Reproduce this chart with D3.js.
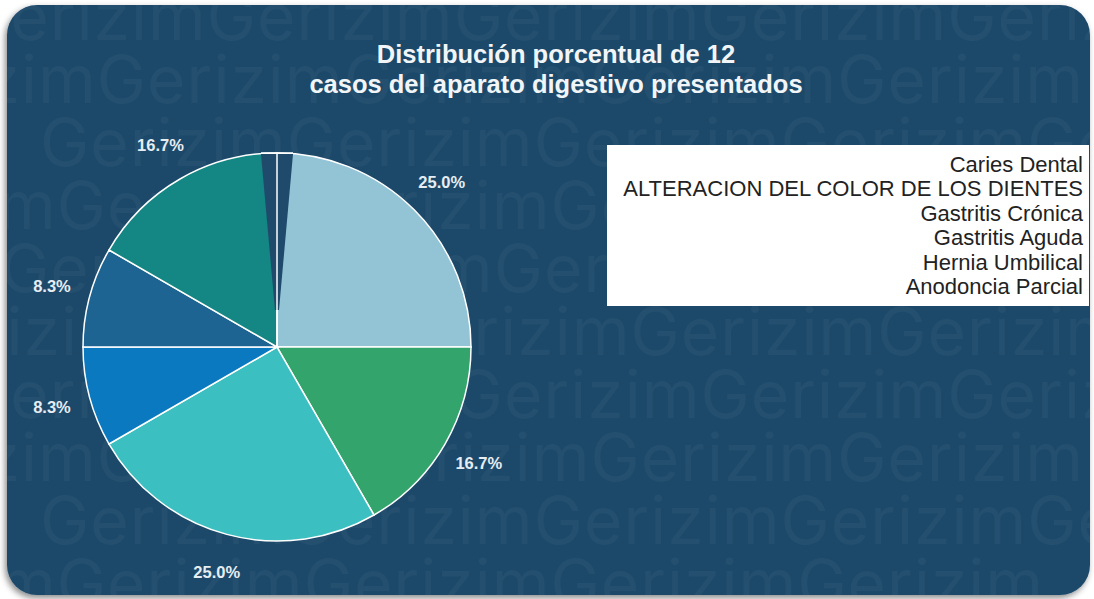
<!DOCTYPE html>
<html lang="es">
<head>
<meta charset="UTF-8" />
<title>Distribución porcentual</title>
<script src="https://d3js.org/d3.v7.min.js"></script>
<style>
  body { margin: 0; background: #fff; }
  svg { display: block; font-family: "Liberation Sans", Arial, sans-serif; }
  .slice { stroke: #fff; stroke-width: 1.5px; }
  .pct { fill: #e6edf3; font-size: 16.5px; font-weight: bold; text-anchor: middle; }
  .title { fill: #f2f5f8; font-size: 25.5px; font-weight: bold; text-anchor: middle; }
  .legend text { fill: #222; font-size: 22px; text-anchor: end; }
</style>
</head>
<body>
<svg width="1094" height="599"></svg>
<script>
  const width = 1094, height = 599;

  // datos
  const categories = [
    "Caries Dental",
    "ALTERACION DEL COLOR DE LOS DIENTES",
    "Gastritis Crónica",
    "Gastritis Aguda",
    "Hernia Umbilical",
    "Anodoncia Parcial"
  ];
  const cases = [3, 2, 3, 1, 1, 2];
  const colors = ["#93c4d5", "#33a46c", "#3cbfc0", "#0a79bf", "#1d6492", "#148683"];
  const titleLines = ["Distribución porcentual de 12", "casos del aparato digestivo presentados"];

  const svg = d3.select("svg");
  const bg = "#1f4a6b";

  // sombra + tarjeta
  const defs = svg.append("defs");
  const f = defs.append("filter").attr("id", "shadow").attr("x", "-5%").attr("y", "-5%").attr("width", "110%").attr("height", "110%");
  f.append("feDropShadow").attr("dx", -2).attr("dy", 3).attr("stdDeviation", 3).attr("flood-color", "#000").attr("flood-opacity", 0.45);
  defs.append("clipPath").attr("id", "card")
    .append("rect").attr("x", 7).attr("y", 5).attr("width", 1083).attr("height", 590).attr("rx", 30);

  svg.append("rect")
    .attr("x", 7).attr("y", 5).attr("width", 1083).attr("height", 590).attr("rx", 30)
    .attr("fill", bg).attr("filter", "url(#shadow)");

  // marca de agua
  const wm = svg.append("g").attr("clip-path", "url(#card)");
  d3.range(10).forEach(i => {
    wm.append("text")
      .attr("x", -40 - (i % 2) * 150 + (i % 3) * 40)
      .attr("y", 40 + i * 63)
      .attr("fill", "#ffffff").attr("fill-opacity", 0.035)
      .attr("font-family", "Inter, 'Open Sans', sans-serif")
      .attr("font-size", 66).attr("letter-spacing", 1)
      .text("GerizimGerizimGerizimGerizimGerizim");
  });

  // titulo
  svg.append("text").attr("class", "title").attr("x", 556).attr("y", 63).text(titleLines[0]);
  svg.append("text").attr("class", "title").attr("x", 556).attr("y", 93).text(titleLines[1]);

  // pastel
  const cx = 277, cy = 347, r = 194;
  const total = d3.sum(cases);
  const pie = d3.pie().sort(null).value(d => d)(cases);
  const arc = d3.arc().innerRadius(0).outerRadius(r);
  const labelArc = d3.arc().innerRadius(233).outerRadius(233);

  const g = svg.append("g").attr("transform", `translate(${cx},${cy})`);
  g.selectAll("path.slice")
    .data(pie)
    .join("path")
    .attr("class", "slice")
    .attr("fill", (d, i) => colors[i])
    .attr("d", arc);

  // hueco oscuro en la parte superior (artefacto del original)
  g.append("path")
    .attr("d", `M${-16},${-r + 1}L${16},${-r + 1}L${2},${-37}L${-2},${-37}Z`)
    .attr("fill", bg);
  g.append("line")
    .attr("x1", 0).attr("y1", -r).attr("x2", 0).attr("y2", 0)
    .attr("stroke", "#fff").attr("stroke-width", 1.5);
  g.append("line")
    .attr("x1", -16).attr("y1", -r).attr("x2", 16).attr("y2", -r)
    .attr("stroke", "#fff").attr("stroke-width", 1.5);

  g.selectAll("text.pct")
    .data(pie)
    .join("text")
    .attr("class", "pct")
    .attr("transform", d => `translate(${labelArc.centroid(d)})`)
    .attr("dy", "0.35em")
    .text(d => (d.value / total * 100).toFixed(1) + "%");

  // leyenda
  const legend = svg.append("g").attr("class", "legend");
  legend.append("rect")
    .attr("x", 607).attr("y", 145).attr("width", 482).attr("height", 161)
    .attr("fill", "#fff");
  legend.selectAll("text")
    .data(categories)
    .join("text")
    .attr("x", 1083)
    .attr("y", (d, i) => 172 + i * 24.4)
    .text(d => d);
</script>
</body>
</html>
